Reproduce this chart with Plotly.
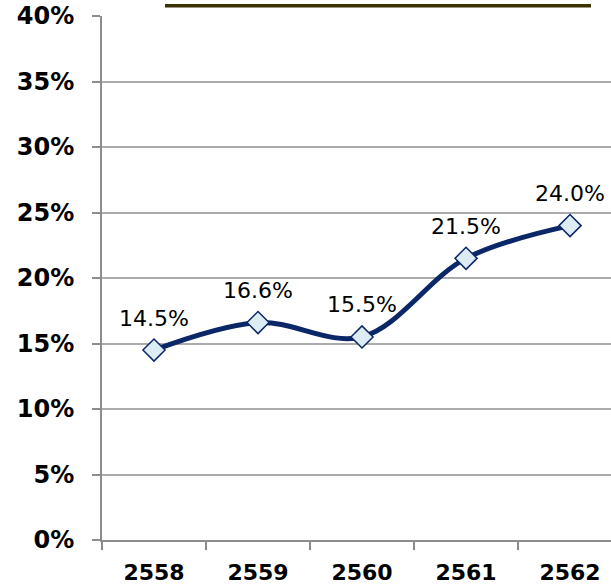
import plotly.graph_objects as go

years = ["2558", "2559", "2560", "2561", "2562"]
values = [14.5, 16.6, 15.5, 21.5, 24.0]
labels = ["14.5%", "16.6%", "15.5%", "21.5%", "24.0%"]
y_ticks = [0, 5, 10, 15, 20, 25, 30, 35, 40]
y_tick_text = ["0%", "5%", "10%", "15%", "20%", "25%", "30%", "35%", "40%"]

fig = go.Figure()
fig.add_trace(go.Scatter(
    x=years, y=values, mode="lines+markers",
    line=dict(color="#0B2767", width=5, shape="spline", smoothing=1.0),
    marker=dict(symbol="diamond", size=17, color="#DCEBF4",
                line=dict(color="#0B2767", width=1.5)),
    hoverinfo="skip", showlegend=False,
))

for i, (v, t) in enumerate(zip(values, labels)):
    fig.add_annotation(x=i, y=v, xref="x", yref="y", text=t, showarrow=False, yshift=32,
                       font=dict(family="DejaVu Sans", size=22, color="#000000"))

# title underline (title text is cut off at the top edge in the reference)
fig.add_shape(type="rect", xref="paper", yref="paper",
              x0=(165 - 102) / 509, x1=(591 - 102) / 509,
              y0=1 + 8.5 / 524, y1=1 + 12 / 524,
              fillcolor="#3A3300", line=dict(width=0))

fig.update_layout(
    width=611, height=584,
    margin=dict(l=102, r=0, t=16, b=44),
    paper_bgcolor="white", plot_bgcolor="white",
    font=dict(family="DejaVu Sans", color="#000000"),
    xaxis=dict(
        type="category", range=[-0.5, 4.394],
        showline=True, linecolor="#8C8C8C", linewidth=2,
        ticks="outside", tickson="boundaries", ticklen=8, tickcolor="#8C8C8C", tickwidth=2,
        showgrid=False, zeroline=False, ticklabelstandoff=12,
        tickfont=dict(family="DejaVu Sans", size=22, color="#000000", weight="bold"),
    ),
    yaxis=dict(
        range=[0, 40], tickvals=y_ticks, ticktext=y_tick_text,
        showline=True, linecolor="#8C8C8C", linewidth=2,
        ticks="outside", ticklen=8, tickcolor="#8C8C8C", tickwidth=2,
        showgrid=True, gridcolor="#ABABAB", gridwidth=1.5, zeroline=False,
        ticklabelstandoff=13, ticklabeloverflow="allow", automargin=False,
        tickfont=dict(family="DejaVu Sans", size=24, color="#000000", weight="bold"),
    ),
)

fig.write_html("out.html", config={"displayModeBar": False},
               post_script="document.body.style.margin = '0px';")
